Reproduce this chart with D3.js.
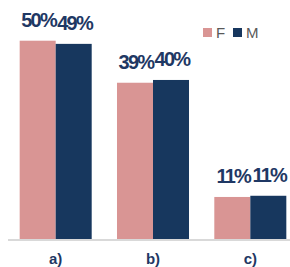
<!DOCTYPE html>
<html lang="en">
<head>
    <meta charset="UTF-8">
    <script src="https://cdn.jsdelivr.net/npm/d3@7"></script>
    <title>F / M bars</title>
    <style>
        body { margin: 0; background: white; }
        .val {
            font-family: 'Liberation Sans', Arial, sans-serif;
            font-weight: bold;
            font-size: 20px;
            letter-spacing: -1.8px;
            fill: #1f3864;
        }
        .cat {
            font-family: 'Liberation Sans', Arial, sans-serif;
            font-weight: bold;
            font-size: 15px;
            fill: #1f3864;
        }
        .leg {
            font-family: 'Liberation Sans', Arial, sans-serif;
            font-size: 15px;
            fill: #595959;
        }
    </style>
</head>
<body>
<div id="chart"></div>
<script>
    const categories = ["a)", "b)", "c)"];
    const series = ["F", "M"];
    const valuesF = [50.0, 39.4, 10.6];
    const valuesM = [49.2, 40.1, 10.9];
    const colors = ["#d99594", "#17375e"];

    const width = 290, height = 267;
    const baseline = 239;

    const rows = categories.map((c, i) => ({ cat: c, F: valuesF[i], M: valuesM[i] }));

    const svg = d3.select("#chart").append("svg")
        .attr("width", width)
        .attr("height", height);

    const x0 = d3.scaleBand()
        .domain(categories)
        .range([8, 298])
        .paddingInner(0.26)
        .paddingOuter(0.12);
    const x1 = d3.scaleBand()
        .domain(series)
        .range([0, x0.bandwidth()]);
    const y = d3.scaleLinear()
        .domain([0, 50])
        .range([baseline, 40.7]);

    const groups = svg.selectAll("g.grp")
        .data(rows)
        .enter()
        .append("g")
        .attr("class", "grp")
        .attr("transform", d => `translate(${x0(d.cat)},0)`);

    groups.selectAll("rect")
        .data(d => series.map((s, i) => ({ s: s, v: d[s], c: colors[i] })))
        .enter()
        .append("rect")
        .attr("x", d => x1(d.s))
        .attr("y", d => y(d.v))
        .attr("width", x1.bandwidth())
        .attr("height", d => baseline - y(d.v))
        .attr("fill", d => d.c);

    groups.selectAll("text.val")
        .data(d => series.map(s => ({ s: s, v: d[s] })))
        .enter()
        .append("text")
        .attr("class", "val")
        .attr("x", d => x1(d.s) + x1.bandwidth() / 2 + 0.9)
        .attr("y", d => y(d.v) - 14)
        .attr("text-anchor", "middle")
        .text(d => Math.round(d.v) + "%");

    // baseline
    svg.append("line")
        .attr("x1", 8).attr("x2", width)
        .attr("y1", baseline + 1).attr("y2", baseline + 1)
        .attr("stroke", "#d9d9d9")
        .attr("stroke-width", 2);

    // category labels
    svg.selectAll("text.cat")
        .data(categories)
        .enter()
        .append("text")
        .attr("class", "cat")
        .attr("x", d => x0(d) + x0.bandwidth() / 2)
        .attr("y", 264)
        .attr("text-anchor", "middle")
        .text(d => d);

    // legend
    const legX = [203, 233];
    const leg = svg.selectAll("g.leg")
        .data(series)
        .enter()
        .append("g")
        .attr("transform", (d, i) => `translate(${legX[i]},28)`);
    leg.append("rect")
        .attr("width", 9).attr("height", 9)
        .attr("fill", (d, i) => colors[i]);
    leg.append("text")
        .attr("class", "leg")
        .attr("x", 13)
        .attr("y", 9.5)
        .text(d => d);
</script>
</body>
</html>
